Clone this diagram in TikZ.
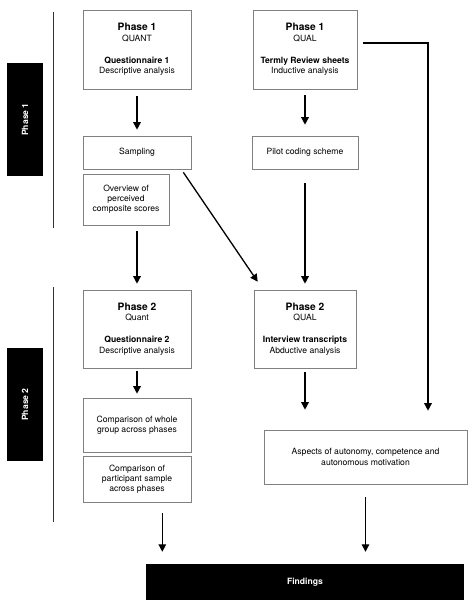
\documentclass[tikz,border=0pt]{standalone}
\usepackage{fontspec}
\setmainfont{TeX Gyre Heros}
\usepackage{tikz}
\usetikzlibrary{arrows.meta}

\begin{document}
\begin{tikzpicture}[x=1pt, y=-1pt,
	every node/.style={font=\fontsize{8.6}{10.2}\selectfont, align=center, inner sep=0pt},
	box/.style={draw=black!50, line width=0.6pt},
	blk/.style={fill=black, text=white, font=\fontsize{8.6}{10}\selectfont\bfseries},
	flow/.style={line width=1.3pt, -{Triangle[length=7.5pt,width=7.5pt]}}]
\useasboundingbox (0,0) rectangle (474,608);
%phase bars
\node[blk, minimum width=36pt, minimum height=113pt] (ph1) at (25,119.5) {\rotatebox{90}{Phase 1}};
\node[blk, minimum width=36pt, minimum height=113pt] (ph2) at (25,404.5) {\rotatebox{90}{Phase 2}};
\draw[line width=0.8pt, black!80] (53,12) -- (53,228);
\draw[line width=0.8pt, black!80] (53,287) -- (53,522);
%phase 1
\node[box, minimum width=108pt, minimum height=79pt] (quant1) at (137,49.5)
	{{\fontsize{10.2}{11}\selectfont\bfseries Phase 1}\\QUANT\\[12pt]\textbf{Questionnaire 1}\\Descriptive analysis};
\node[box, minimum width=104pt, minimum height=79pt] (qual1) at (305,49.5)
	{{\fontsize{10.2}{11}\selectfont\bfseries Phase 1}\\QUAL\\[12pt]\textbf{Termly Review sheets}\\Inductive analysis};
\node[box, minimum width=108pt, minimum height=33pt] (sampling) at (137,152.5) {Sampling};
\node[box, minimum width=106pt, minimum height=33pt] (pilot) at (305,152.5) {Pilot coding scheme};
\node[box, minimum width=86pt, minimum height=51pt] (overview) at (126,199.5)
	{Overview of\\perceived\\composite scores};
%phase 2
\node[box, minimum width=108pt, minimum height=78pt] (quant2) at (137,329)
	{{\fontsize{10.2}{11}\selectfont\bfseries Phase 2}\\Quant\\[12pt]\textbf{Questionnaire 2}\\Descriptive analysis};
\node[box, minimum width=102pt, minimum height=78pt] (qual2) at (305,329)
	{{\fontsize{10.2}{11}\selectfont\bfseries Phase 2}\\QUAL\\[12pt]\textbf{Interview transcripts}\\Abductive analysis};
\node[box, minimum width=108pt, minimum height=54pt] (comp1) at (137,425)
	{Comparison of whole\\group across phases};
\node[box, minimum width=108pt, minimum height=46pt] (comp2) at (137,479)
	{Comparison of\\participant sample\\across phases};
\node[box, minimum width=203pt, minimum height=54pt] (aspects) at (365.5,457)
	{Aspects of autonomy, competence and\\autonomous motivation};
\node[blk, minimum width=318pt, minimum height=36pt] (findings) at (305,582) {Findings};
%arrows
\draw[flow, shorten <=7pt, shorten >=6pt] (quant1) -- (sampling);
\draw[flow, shorten <=6pt, shorten >=11pt] (qual1) -- (pilot);
\draw[flow, shorten <=6pt, shorten >=6pt] (quant1.south |- overview.south) -- (quant1.south |- quant2.north);
\draw[flow, shorten <=14pt, shorten >=6pt] (pilot) -- (qual2);
\draw[flow] ([xshift=-8pt,yshift=-3pt]sampling.south east) -- ([xshift=4pt,yshift=8pt]qual2.north west);
\draw[flow, shorten >=19pt] ([xshift=6pt,yshift=6.5pt]qual1.east) -| ([xshift=62.5pt]aspects.north);
\draw[flow, shorten <=3pt, shorten >=4pt] (quant2) -- (comp1);
\draw[flow, shorten <=4pt, shorten >=20pt] (qual2.south) -- (qual2.south |- aspects.north);
\coordinate (fl) at ([xshift=-29pt]comp2.south east);
\draw[flow, shorten <=11pt, shorten >=12pt] (fl) -- (fl |- findings.north);
\draw[flow, shorten <=13pt, shorten >=12pt] (aspects) -- (aspects.south |- findings.north);
\end{tikzpicture}
\end{document}
